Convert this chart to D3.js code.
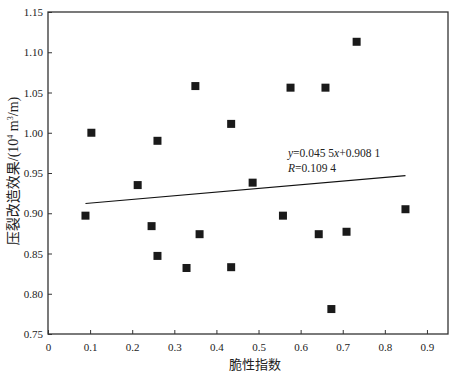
<!DOCTYPE html>
<html>
<head>
<meta charset="utf-8">
<script src="https://cdn.jsdelivr.net/npm/d3@7/dist/d3.min.js"></script>
<style>
  body { margin: 0; background: #fff; }
  svg { display: block; }
</style>
</head>
<body>
<div id="chart"></div>
<script>
// Data
const brittleness = [0.089, 0.103, 0.213, 0.246, 0.260, 0.260, 0.329, 0.350, 0.360, 0.435,
                     0.435, 0.486, 0.558, 0.576, 0.643, 0.659, 0.673, 0.709, 0.733, 0.849];
const effect = [0.897, 1.000, 0.935, 0.884, 0.847, 0.990, 0.832, 1.058, 0.874, 1.011,
                0.833, 0.938, 0.897, 1.056, 0.874, 1.056, 0.781, 0.877, 1.113, 0.905];
const xTicks = [0, 0.1, 0.2, 0.3, 0.4, 0.5, 0.6, 0.7, 0.8, 0.9];
const yTicks = [0.75, 0.80, 0.85, 0.90, 0.95, 1.00, 1.05, 1.10, 1.15];
const slope = 0.0455;
const intercept = 0.9081;

const width = 454, height = 375;
const margin = {top: 12, right: 6, bottom: 41, left: 48};
const serif = "'Liberation Serif', 'DejaVu Serif', serif";
const cjk = "'Noto Sans CJK SC', sans-serif";
const axisColor = "#333";

const svg = d3.select("#chart").append("svg")
    .attr("width", width)
    .attr("height", height);

const x = d3.scaleLinear().domain([0, 0.95]).range([margin.left, width - margin.right]);
const y = d3.scaleLinear().domain([0.75, 1.15]).range([height - margin.bottom, margin.top]);

// frame around the plot
svg.append("rect")
    .attr("x", x(0))
    .attr("y", y(1.15))
    .attr("width", x(0.95) - x(0))
    .attr("height", y(0.75) - y(1.15))
    .attr("fill", "none")
    .attr("stroke", axisColor)
    .attr("stroke-width", 1.3);

// x axis, ticks point inward
const xAxis = svg.append("g")
    .attr("transform", `translate(0,${y(0.75)})`)
    .call(d3.axisBottom(x).tickValues(xTicks).tickSizeInner(-4).tickSizeOuter(0)
        .tickFormat(d => d === 0 ? "0" : d3.format(".1f")(d)));
xAxis.select(".domain").remove();
xAxis.selectAll(".tick line").attr("stroke", axisColor);
xAxis.selectAll("text")
    .attr("y", 9)
    .attr("fill", "#222")
    .style("font-family", serif)
    .style("font-size", "11px");

// y axis
const yAxis = svg.append("g")
    .attr("transform", `translate(${x(0)},0)`)
    .call(d3.axisLeft(y).tickValues(yTicks).tickSizeInner(-4).tickSizeOuter(0)
        .tickFormat(d3.format(".2f")));
yAxis.select(".domain").remove();
yAxis.selectAll(".tick line").attr("stroke", axisColor);
yAxis.selectAll("text")
    .attr("x", -5)
    .attr("fill", "#222")
    .style("font-family", serif)
    .style("font-size", "11px");

// axis titles
svg.append("text")
    .attr("x", 255)
    .attr("y", 369)
    .attr("text-anchor", "middle")
    .attr("fill", "#222")
    .style("font-family", cjk)
    .style("font-size", "13px")
    .text("脆性指数");

const yTitle = svg.append("text")
    .attr("transform", "translate(18,171) rotate(-90)")
    .attr("text-anchor", "middle")
    .attr("fill", "#222")
    .style("font-size", "14px");
yTitle.append("tspan").style("font-family", cjk).text("压裂改造效果");
yTitle.append("tspan").style("font-family", serif).text("/(10");
yTitle.append("tspan").style("font-family", serif).style("font-size", "8px").attr("dy", -5).text("4");
yTitle.append("tspan").style("font-family", serif).attr("dy", 5).text(" m");
yTitle.append("tspan").style("font-family", serif).style("font-size", "8px").attr("dy", -5).text("3");
yTitle.append("tspan").style("font-family", serif).attr("dy", 5).text("/m)");

// fitted line over the range of the data
const [xMin, xMax] = d3.extent(brittleness);
svg.append("line")
    .attr("x1", x(xMin))
    .attr("y1", y(slope * xMin + intercept))
    .attr("x2", x(xMax))
    .attr("y2", y(slope * xMax + intercept))
    .attr("stroke", "#111")
    .attr("stroke-width", 1.1);

// equation text
const eq = svg.append("text")
    .attr("x", 288)
    .attr("y", 157)
    .attr("fill", "#222")
    .style("font-family", serif)
    .style("font-size", "11.5px");
eq.append("tspan").style("font-style", "italic").text("y");
eq.append("tspan").text("=0.045 5");
eq.append("tspan").style("font-style", "italic").text("x");
eq.append("tspan").text("+0.908 1");

const rText = svg.append("text")
    .attr("x", 288)
    .attr("y", 172)
    .attr("fill", "#222")
    .style("font-family", serif)
    .style("font-size", "11.5px");
rText.append("tspan").style("font-style", "italic").text("R");
rText.append("tspan").text("=0.109 4");

// square markers
const size = 8;
svg.append("g")
    .selectAll("rect")
    .data(brittleness.map((b, i) => ({b, e: effect[i]})))
    .enter()
    .append("rect")
    .attr("x", d => x(d.b) - size / 2)
    .attr("y", d => y(d.e) - size / 2)
    .attr("width", size)
    .attr("height", size)
    .attr("fill", "#1a1a1a");
</script>
</body>
</html>
